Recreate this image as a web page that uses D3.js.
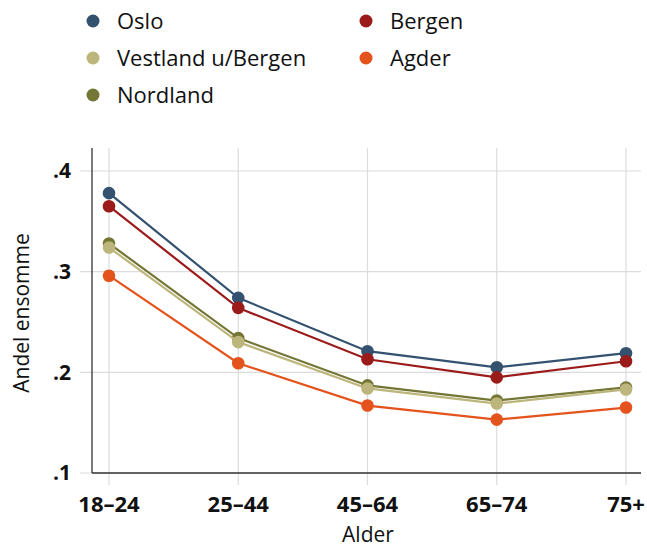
<!DOCTYPE html>
<html><head><meta charset="utf-8">
<script src="https://cdn.jsdelivr.net/npm/d3@7"></script>
<style>body{margin:0;background:#fff}svg{display:block}text{font-family:"Open Sans","Noto Sans",sans-serif}</style>
</head><body>
<svg id="c" width="647" height="549"></svg>
<script>
const categories = ["18–24","25–44","45–64","65–74","75+"];
const yTicks = [0.1,0.2,0.3,0.4];
const yTickLabels = [".1",".2",".3",".4"];
const seriesNames = ["Oslo","Bergen","Nordland","Vestland u/Bergen","Agder"];
const oslo = [0.378,0.274,0.221,0.205,0.219];
const bergen = [0.365,0.264,0.213,0.195,0.211];
const nordland = [0.328,0.234,0.187,0.172,0.185];
const vestland = [0.324,0.230,0.184,0.169,0.183];
const agder = [0.296,0.209,0.167,0.153,0.165];
const colors = {"Oslo":"#34526f","Bergen":"#9b1b1a","Nordland":"#737634","Vestland u/Bergen":"#bdb67c","Agder":"#e4531c"};
const valuesBy = {"Oslo":oslo,"Bergen":bergen,"Nordland":nordland,"Vestland u/Bergen":vestland,"Agder":agder};
const legendOrder = ["Oslo","Bergen","Vestland u/Bergen","Agder","Nordland"];

const svg = d3.select("#c");
const x = d3.scalePoint().domain(categories).range([109,626]);
const y = d3.scaleLinear().domain([0.1,0.4]).range([473,171]);
const pLeft = 92, pRight = 641, pTop = 148, pBottom = 473;

svg.append("g").selectAll("line").data(yTicks).join("line")
  .attr("x1",80).attr("x2",pRight).attr("y1",d=>y(d)).attr("y2",d=>y(d))
  .attr("stroke","#dcdcdc").attr("stroke-width",1.2);
svg.append("g").selectAll("line").data(categories).join("line")
  .attr("x1",d=>x(d)).attr("x2",d=>x(d)).attr("y1",pTop).attr("y2",485)
  .attr("stroke","#dcdcdc").attr("stroke-width",1.2);
svg.append("line").attr("x1",pLeft).attr("x2",pLeft).attr("y1",pTop).attr("y2",pBottom).attr("stroke","#333").attr("stroke-width",1.3);
svg.append("line").attr("x1",pLeft).attr("x2",pRight).attr("y1",pBottom).attr("y2",pBottom).attr("stroke","#333").attr("stroke-width",1.3);

svg.append("g").selectAll("text").data(yTicks).join("text")
  .attr("x",71).attr("y",d=>y(d)).attr("dy","0.35em").attr("text-anchor","end")
  .attr("font-size",21).attr("font-weight","bold").attr("fill","#111")
  .text((d,i)=>yTickLabels[i]);
svg.append("g").selectAll("text").data(categories).join("text")
  .attr("x",d=>x(d)).attr("y",512).attr("text-anchor","middle")
  .attr("font-size",22).attr("font-weight","bold").attr("fill","#111")
  .text(d=>d);
svg.append("text").attr("x",368).attr("y",542).attr("text-anchor","middle").attr("font-size",21).attr("fill","#111").text("Alder");
svg.append("text").attr("transform","translate(29,313) rotate(-90)").attr("text-anchor","middle").attr("font-size",21).attr("fill","#111").text("Andel ensomme");

const line = d3.line().x((d,i)=>x(categories[i])).y(d=>y(d));
seriesNames.forEach(name=>{
  const g = svg.append("g");
  g.append("path").datum(valuesBy[name]).attr("d",line).attr("fill","none")
    .attr("stroke",colors[name]).attr("stroke-width",2.2);
  g.selectAll("circle").data(valuesBy[name]).join("circle")
    .attr("cx",(d,i)=>x(categories[i])).attr("cy",d=>y(d)).attr("r",6.3)
    .attr("fill",colors[name]);
});

const lg = svg.append("g");
legendOrder.forEach((name,i)=>{
  const col = i%2, row = Math.floor(i/2);
  const lx = col===0 ? 93 : 366, ly = 21 + row*37;
  lg.append("circle").attr("cx",lx).attr("cy",ly).attr("r",6.5).attr("fill",colors[name]);
  lg.append("text").attr("x",lx+24).attr("y",ly).attr("dy","0.35em").attr("font-size",22).attr("fill","#111").text(name);
});
</script>
</body></html>
